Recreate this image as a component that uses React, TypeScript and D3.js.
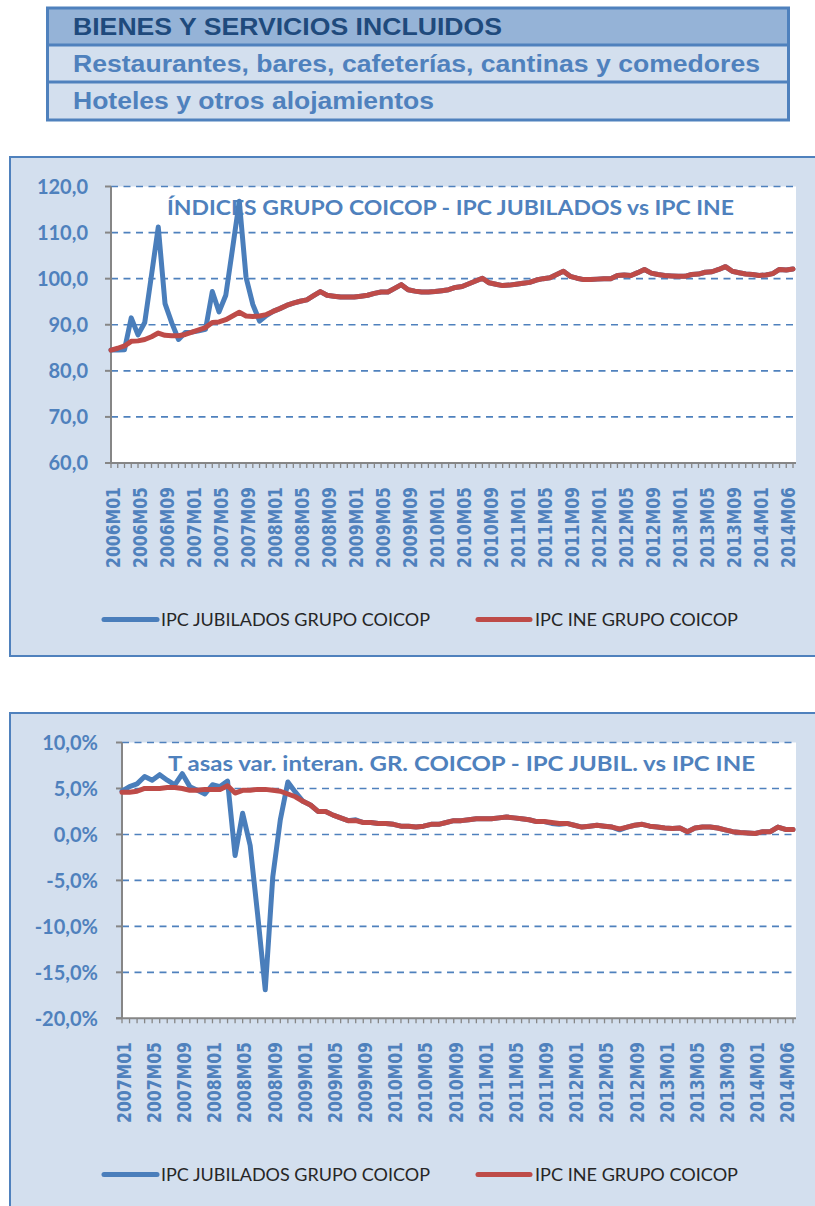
import React from "react";
import * as d3 from "d3";

// ---------- DATA ----------
const HEADER_ROWS = [
  "BIENES Y SERVICIOS INCLUIDOS",
  "Restaurantes, bares, cafeterías, cantinas y comedores",
  "Hoteles y otros alojamientos",
];

const SERIES_NAMES = ["IPC JUBILADOS GRUPO COICOP", "IPC INE GRUPO COICOP"];

const TITLE_INDEX = "ÍNDICES GRUPO COICOP - IPC JUBILADOS vs IPC INE";
const TITLE_RATE = "T asas var. interan. GR. COICOP - IPC JUBIL. vs IPC INE";

const INDEX_LABELS = [
  "2006M01", "2006M05", "2006M09", "2007M01", "2007M05", "2007M09",
  "2008M01", "2008M05", "2008M09", "2009M01", "2009M05", "2009M09",
  "2010M01", "2010M05", "2010M09", "2011M01", "2011M05", "2011M09",
  "2012M01", "2012M05", "2012M09", "2013M01", "2013M05", "2013M09",
  "2014M01", "2014M06",
];

const INDEX_JUBILADOS = [
  84.5, 84.5, 84.6, 91.5, 87.8, 90.5, 100.8, 111.2, 94.6, 90.4, 86.8, 88.3,
  88.4, 88.7, 89.0, 97.2, 92.8, 96.4, 106.5, 116.8, 100.3, 94.4, 90.8, 92.0,
  92.9, 93.5, 94.2, 94.7, 95.1, 95.4, 96.3, 97.2, 96.4, 96.2, 96.0, 96.0,
  96.0, 96.2, 96.4, 96.8, 97.1, 97.1, 97.9, 98.7, 97.6, 97.3, 97.1, 97.1,
  97.2, 97.4, 97.6, 98.1, 98.3, 98.9, 99.5, 100.1, 99.1, 98.8, 98.5, 98.6,
  98.8, 99.0, 99.2, 99.7, 100.0, 100.2, 100.9, 101.6, 100.5, 100.1, 99.8, 99.8,
  99.9, 100.0, 100.0, 100.7, 100.8, 100.7, 101.3, 102.0, 101.2, 100.9, 100.7, 100.6,
  100.5, 100.5, 100.9, 101.0, 101.4, 101.5, 102.0, 102.6, 101.6, 101.3, 101.0, 100.9,
  100.7, 100.8, 101.1, 102.0, 101.9, 102.1,
];

const INDEX_INE = [
  84.5, 84.9, 85.4, 86.4, 86.5, 86.8, 87.4, 88.2, 87.7, 87.6, 87.6, 87.9,
  88.4, 88.9, 89.4, 90.5, 90.6, 91.1, 91.9, 92.7, 91.9, 91.8, 91.9, 92.2,
  92.9, 93.5, 94.2, 94.7, 95.1, 95.4, 96.3, 97.2, 96.4, 96.2, 96.0, 96.0,
  96.0, 96.2, 96.4, 96.8, 97.1, 97.1, 97.9, 98.7, 97.6, 97.3, 97.1, 97.1,
  97.2, 97.4, 97.6, 98.1, 98.3, 98.9, 99.5, 100.1, 99.1, 98.8, 98.5, 98.6,
  98.8, 99.0, 99.2, 99.7, 100.0, 100.2, 100.9, 101.6, 100.5, 100.1, 99.8, 99.8,
  99.9, 100.0, 100.0, 100.7, 100.8, 100.7, 101.3, 102.0, 101.2, 100.9, 100.7, 100.6,
  100.5, 100.5, 100.9, 101.0, 101.4, 101.5, 102.0, 102.6, 101.6, 101.3, 101.0, 100.9,
  100.7, 100.8, 101.1, 102.0, 101.9, 102.1,
];

const INDEX_Y_TICKS = [60, 70, 80, 90, 100, 110, 120];

const RATE_LABELS = [
  "2007M01", "2007M05", "2007M09", "2008M01", "2008M05", "2008M09",
  "2009M01", "2009M05", "2009M09", "2010M01", "2010M05", "2010M09",
  "2011M01", "2011M05", "2011M09", "2012M01", "2012M05", "2012M09",
  "2013M01", "2013M05", "2013M09", "2014M01", "2014M06",
];

const RATE_JUBILADOS = [
  4.7, 5.2, 5.5, 6.3, 5.9, 6.5, 5.9, 5.4, 6.6, 5.2, 4.8, 4.4,
  5.4, 5.2, 5.8, -2.3, 2.3, -1.2, -8.8, -16.9, -4.6, 1.6, 5.7, 4.6,
  3.6, 3.2, 2.5, 2.5, 2.1, 1.8, 1.5, 1.6, 1.3, 1.3, 1.2, 1.2,
  1.1, 0.9, 0.9, 0.8, 0.9, 1.1, 1.1, 1.3, 1.5, 1.5, 1.6, 1.7,
  1.7, 1.7, 1.8, 1.9, 1.8, 1.7, 1.6, 1.4, 1.4, 1.2, 1.1, 1.2,
  1.0, 0.8, 0.9, 1.0, 0.9, 0.8, 0.5, 0.8, 1.0, 1.1, 0.9, 0.8,
  0.7, 0.65, 0.7, 0.3, 0.7, 0.8, 0.8, 0.7, 0.5, 0.3, 0.2, 0.15,
  0.1, 0.3, 0.3, 0.8, 0.55, 0.55,
];

const RATE_INE = [
  4.6, 4.6, 4.7, 5.0, 5.0, 5.0, 5.1, 5.1, 5.0, 4.8, 4.8, 4.9,
  4.9, 4.9, 5.3, 4.5, 4.8, 4.8, 4.9, 4.9, 4.8, 4.7, 4.4, 4.1,
  3.6, 3.2, 2.5, 2.5, 2.1, 1.8, 1.5, 1.5, 1.3, 1.3, 1.2, 1.2,
  1.1, 0.9, 0.9, 0.8, 0.9, 1.1, 1.1, 1.3, 1.5, 1.5, 1.6, 1.7,
  1.7, 1.7, 1.8, 1.9, 1.8, 1.7, 1.6, 1.4, 1.4, 1.3, 1.2, 1.2,
  1.0, 0.8, 0.9, 1.0, 0.9, 0.8, 0.6, 0.8, 1.0, 1.1, 0.9, 0.8,
  0.7, 0.65, 0.7, 0.3, 0.7, 0.8, 0.8, 0.7, 0.5, 0.3, 0.2, 0.15,
  0.1, 0.3, 0.3, 0.8, 0.55, 0.55,
];

const RATE_Y_TICKS = [-20, -15, -10, -5, 0, 5, 10];

// ---------- STYLE ----------
const BLUE = "#4A7EBB";
const RED = "#BE4B48";
const GRID = "#4F81BD";
const LABEL = "#4F81BD";
const AXIS = "#868686";
const CHART_BG = "#D3DFEE";

const locale = d3.formatLocale({
  decimal: ",",
  thousands: ".",
  grouping: [3],
  currency: ["", "€"],
  minus: "-",
});
const fmt1 = locale.format(".1f");

type ChartProps = {
  boxTop: number;
  boxHeight: number;
  plot: { left: number; right: number; top: number; bottom: number };
  yTicks: number[];
  yFmt: (v: number) => string;
  yLabelRight: number;
  title: string;
  titleX: number;
  titleBaseline: number;
  titleLen: number;
  tickLabels: string[];
  blue: number[];
  red: number[];
  labelBottom: number;
  legendY: number;
};

function LineChart(p: ChartProps) {
  const n = p.blue.length;
  const x = d3.scaleLinear().domain([0, n - 1]).range([p.plot.left, p.plot.right]);
  const y = d3
    .scaleLinear()
    .domain([d3.min(p.yTicks)!, d3.max(p.yTicks)!])
    .range([p.plot.bottom, p.plot.top]);
  const line = d3
    .line<number>()
    .x((_, i) => x(i))
    .y((d) => y(d));
  const idx = d3.range(n);
  const yMin = d3.min(p.yTicks)!;

  return (
    <g>
      <rect
        x={10}
        y={p.boxTop}
        width={820}
        height={p.boxHeight}
        fill={CHART_BG}
        stroke={GRID}
        strokeWidth={2}
      />
      <rect
        x={p.plot.left}
        y={p.plot.top}
        width={p.plot.right + 3 - p.plot.left}
        height={p.plot.bottom - p.plot.top}
        fill="#ffffff"
      />
      {p.yTicks
        .filter((t) => t !== yMin)
        .map((t) => (
          <line
            key={"g" + t}
            x1={p.plot.left}
            x2={p.plot.right + 2}
            y1={y(t)}
            y2={y(t)}
            stroke={GRID}
            strokeWidth={1.6}
            strokeDasharray="7,5.5"
          />
        ))}
      {/* y axis */}
      <line x1={p.plot.left} x2={p.plot.left} y1={p.plot.top} y2={p.plot.bottom} stroke={AXIS} strokeWidth={2} />
      {p.yTicks.map((t) => (
        <g key={"yt" + t}>
          <line x1={p.plot.left - 6} x2={p.plot.left} y1={y(t)} y2={y(t)} stroke={AXIS} strokeWidth={2} />
          <text
            x={p.yLabelRight}
            y={y(t)}
            dy="0.36em"
            textAnchor="end"
            fontFamily="Lato, 'Open Sans', sans-serif"
            fontWeight={700}
            fontSize={20}
            fill={LABEL}
          >
            {p.yFmt(t)}
          </text>
        </g>
      ))}
      {/* x axis */}
      <line x1={p.plot.left - 6} x2={p.plot.right + 3} y1={p.plot.bottom} y2={p.plot.bottom} stroke={AXIS} strokeWidth={2} />
      {idx.map((i) => (
        <line key={"xt" + i} x1={x(i)} x2={x(i)} y1={p.plot.bottom} y2={p.plot.bottom + 5} stroke={AXIS} strokeWidth={1.3} />
      ))}
      {p.tickLabels.map((lab, k) => {
        const cx = x(k * 4) + 2;
        return (
          <text
            key={"xl" + k}
            transform={`translate(${cx},${p.labelBottom}) rotate(-90)`}
            dy="0.36em"
            textAnchor="start"
            fontFamily="'DejaVu Sans', Verdana, sans-serif"
            fontWeight={700}
            fontSize={19}
            fill={LABEL}
            textLength={81}
            lengthAdjust="spacingAndGlyphs"
          >
            {lab}
          </text>
        );
      })}
      {/* title */}
      <text
        x={p.titleX}
        y={p.titleBaseline}
        fontFamily="Lato, 'Open Sans', sans-serif"
        fontWeight={700}
        fontSize={20}
        fill={LABEL}
        textLength={p.titleLen}
        lengthAdjust="spacingAndGlyphs"
      >
        {p.title}
      </text>
      {/* series */}
      <path d={line(p.blue) || ""} fill="none" stroke={BLUE} strokeWidth={5} strokeLinejoin="round" strokeLinecap="round" />
      <path d={line(p.red) || ""} fill="none" stroke={RED} strokeWidth={5} strokeLinejoin="round" strokeLinecap="round" />
      {/* legend */}
      <line x1={104} x2={157} y1={p.legendY} y2={p.legendY} stroke={BLUE} strokeWidth={5} strokeLinecap="round" />
      <text
        x={161}
        y={p.legendY}
        dy="0.36em"
        fontFamily="Lato, 'Open Sans', sans-serif"
        fontSize={18}
        fill="#262626"
        textLength={269}
        lengthAdjust="spacingAndGlyphs"
      >
        {SERIES_NAMES[0]}
      </text>
      <line x1={478} x2={530} y1={p.legendY} y2={p.legendY} stroke={RED} strokeWidth={5} strokeLinecap="round" />
      <text
        x={535}
        y={p.legendY}
        dy="0.36em"
        fontFamily="Lato, 'Open Sans', sans-serif"
        fontSize={18}
        fill="#262626"
        textLength={203}
        lengthAdjust="spacingAndGlyphs"
      >
        {SERIES_NAMES[1]}
      </text>
    </g>
  );
}

function Header() {
  const rows = [
    { y: 8, h: 37, fill: "#95B3D7", color: "#1F4A7C", len: 429 },
    { y: 45, h: 37, fill: CHART_BG, color: "#4F81BD", len: 687 },
    { y: 82, h: 38, fill: CHART_BG, color: "#4F81BD", len: 361 },
  ];
  return (
    <g>
      {rows.map((r, i) => (
        <g key={i}>
          <rect x={47.5} y={r.y} width={741} height={r.h} fill={r.fill} />
          <text
            x={73}
            y={r.y + r.h / 2}
            dy="0.36em"
            fontFamily="'Liberation Sans', Arial, sans-serif"
            fontWeight={700}
            fontSize={23}
            fill={r.color}
            textLength={r.len}
            lengthAdjust="spacingAndGlyphs"
          >
            {HEADER_ROWS[i]}
          </text>
        </g>
      ))}
      <line x1={47.5} x2={788.5} y1={45} y2={45} stroke={GRID} strokeWidth={3} />
      <line x1={47.5} x2={788.5} y1={82} y2={82} stroke={GRID} strokeWidth={3} />
      <rect x={47.5} y={8} width={741} height={112} fill="none" stroke={GRID} strokeWidth={3} />
    </g>
  );
}

export default function App() {
  return (
    <svg
      width={815}
      height={1206}
      viewBox="0 0 815 1206"
      style={{ position: "absolute", left: 0, top: 0, background: "#ffffff" }}
    >
      <Header />
      <LineChart
        boxTop={157}
        boxHeight={499}
        plot={{ left: 111, right: 793, top: 186.5, bottom: 463 }}
        yTicks={INDEX_Y_TICKS}
        yFmt={(v) => fmt1(v)}
        yLabelRight={88}
        title={TITLE_INDEX}
        titleX={167}
        titleBaseline={215}
        titleLen={567}
        tickLabels={INDEX_LABELS}
        blue={INDEX_JUBILADOS}
        red={INDEX_INE}
        labelBottom={568}
        legendY={619.5}
      />
      <LineChart
        boxTop={713}
        boxHeight={520}
        plot={{ left: 122, right: 793, top: 742.5, bottom: 1018.3 }}
        yTicks={RATE_Y_TICKS}
        yFmt={(v) => fmt1(v) + "%"}
        yLabelRight={98}
        title={TITLE_RATE}
        titleX={168}
        titleBaseline={771}
        titleLen={587}
        tickLabels={RATE_LABELS}
        blue={RATE_JUBILADOS}
        red={RATE_INE}
        labelBottom={1123}
        legendY={1174.5}
      />
    </svg>
  );
}
